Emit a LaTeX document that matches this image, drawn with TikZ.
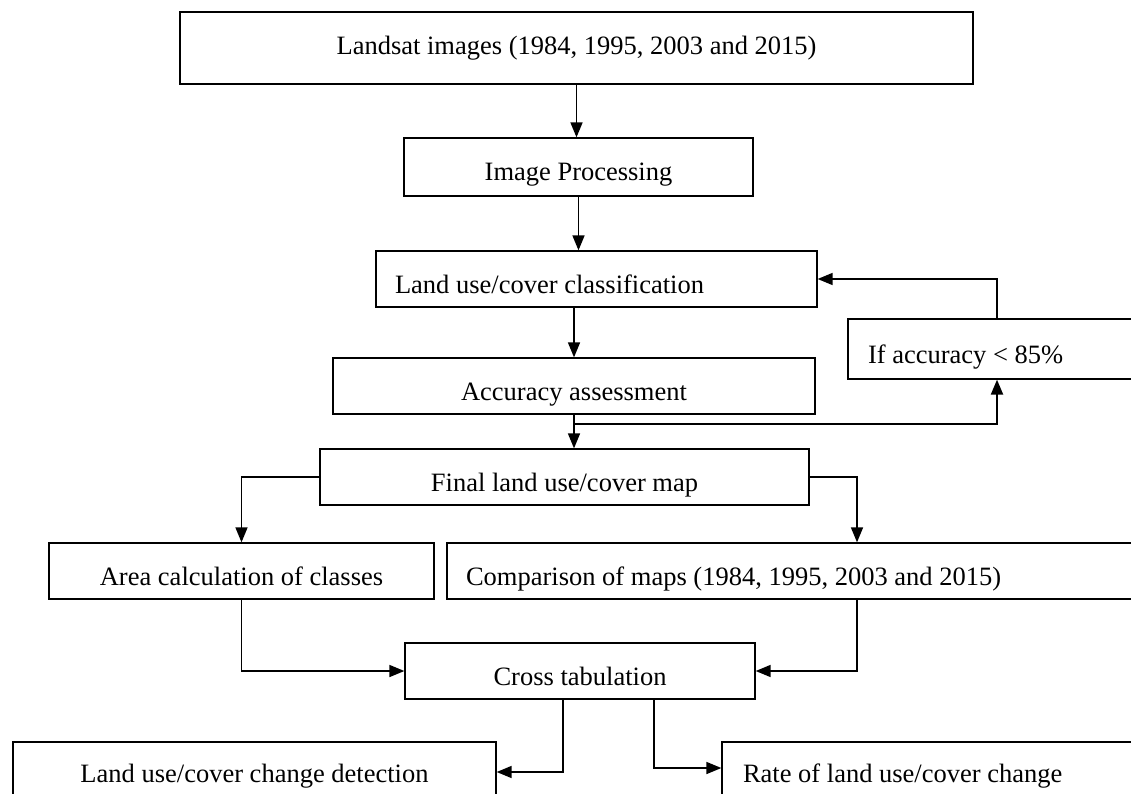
\documentclass[tikz,border=0pt]{standalone}
\usepackage{fontspec}
\setmainfont{Liberation Serif}
\usetikzlibrary{arrows.meta}

\begin{document}
\begin{tikzpicture}[x=1pt,y=-1pt,
    stage/.style ={draw, line width=1.3pt, inner sep=0pt, font=\fontsize{26.5pt}{30pt}\selectfont},
    lowstage/.style ={stage, text height=28pt, text depth=0pt},
    leftstage/.style ={lowstage, align=flush left, inner xsep=20pt},
    flow/.style ={line width=1.6pt, -{Triangle[length=15pt,width=12pt]}}]
   \clip (0,0) rectangle (1131,794);
   \node[stage, minimum width=793pt, minimum height=72pt] (landsat)  at (576.5,48)  {Landsat images (1984, 1995, 2003 and 2015)};
   \node[lowstage, minimum width=349pt, minimum height=58pt] (process)  at (578.5,167)  {Image Processing};
   \node[leftstage, inner xsep=19pt, text width=403pt, minimum height=56pt] (classify)  at (596.5,279)  {Land use/cover classification};
   \node[lowstage, minimum width=482pt, minimum height=56pt] (accuracy)  at (574,386)  {Accuracy assessment};
   \node[leftstage, text width=258pt, minimum height=60pt] (check)  at (997,349)  {If accuracy \textless{} 85\%};
   \node[lowstage, minimum width=489pt, minimum height=56pt] (final)  at (564.5,477)  {Final land use/cover map};
   \node[lowstage, minimum width=385pt, minimum height=56pt] (area)  at (241.5,571)  {Area calculation of classes};
   \node[leftstage, inner xsep=19pt, text width=782pt, minimum height=56pt] (compare)  at (857,571)  {Comparison of maps (1984, 1995, 2003 and 2015)};
   \node[lowstage, minimum width=350pt, minimum height=56pt] (cross)  at (580,671)  {Cross tabulation};
   \node[stage, minimum width=483pt, minimum height=68pt] (detect)  at (254.5,776)  {Land use/cover change detection};
   \node[stage, align=flush left, inner xsep=21pt, text width=398pt, minimum height=68pt] (rate)  at (942,776)  {Rate of land use/cover change};
   \coordinate (split) at (574,424);

   \draw[flow] (landsat.south) to (landsat.south |- process.north);
   \draw[flow] (process.south) to (process.south |- classify.north);
   \draw[flow] (accuracy.north |- classify.south) to (accuracy.north);
   \draw[flow] (accuracy.south) to (accuracy.south |- final.north);
   \draw[flow, line width=2.2pt] (split) -| (check.south);
   \draw[flow] (check.north) |- (classify.east);
   \draw[flow] (final.west) -| (area.north);
   \draw[flow] (final.east) -| (compare.north);
   \draw[flow] (area.south) |- (cross.west);
   \draw[flow] (compare.south) |- (cross.east);
   \draw[flow] ([xshift=-17pt]cross.south) |- ([yshift=4pt]detect.east);
   \draw[flow] ([xshift=74pt]cross.south) |- ([yshift=8pt]rate.west);
 \end{tikzpicture}
\end{document}
